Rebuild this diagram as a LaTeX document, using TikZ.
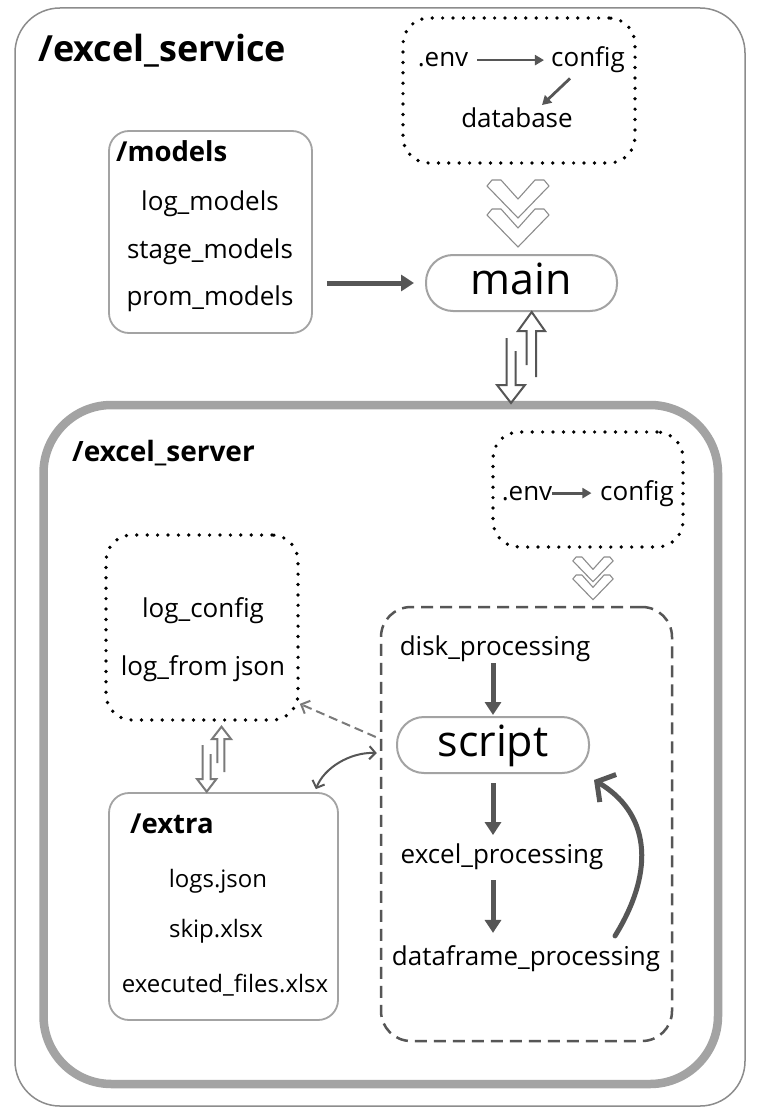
\documentclass[tikz,border=0pt]{standalone}
\usepackage{fontspec}
\setmainfont{Open Sans}
\usetikzlibrary{arrows.meta}
\definecolor{bgray}{HTML}{A3A3A3}
\definecolor{dgray}{HTML}{565656}
\definecolor{ogray}{HTML}{8C8C8C}
\definecolor{lgray}{HTML}{7A7A7A}
\begin{document}
\begin{tikzpicture}[x=1pt,y=-1pt,
  txt/.style={inner sep=0pt, font=\fontsize{26}{30}\selectfont, anchor=base},
  stxt/.style={inner sep=0pt, font=\fontsize{24}{28}\selectfont, anchor=base},
  ttl/.style={inner sep=0pt, font=\bfseries\fontsize{27.5}{32}\selectfont, anchor=base west},
  graybox/.style={draw=bgray, line width=1.8pt, rounded corners=20pt, inner sep=0pt},
  dotbox/.style={draw=black, line width=3.7pt, dash pattern=on 0pt off 10.4pt, line cap=round, rounded corners=26pt, inner sep=0pt},
  pill/.style={draw=bgray, line width=2pt, rounded corners=27pt, inner sep=0pt, text height=33pt, text depth=10pt, font=\fontsize{43}{50}\selectfont},
  harrow/.style={-{Triangle[length=13pt,width=16pt]}, line width=5pt, draw=dgray},
  sarrow/.style={-{Triangle[length=9pt,width=10pt]}, line width=2.8pt, draw=dgray},
  chevline/.style={draw=ogray, line width=1.1pt, fill=white, line join=round},
  hollow/.style={draw=dgray, line width=2pt, line join=miter},
  hollowl/.style={draw=lgray, line width=2pt, line join=miter},
  chev/.pic={\path[chevline] (-31,6)--(-26,0)--(-17,0)--(0,19)--(17,0)--(26,0)--(31,6)--(0,38)--cycle;},
]
\useasboundingbox (0,0) rectangle (760,1118);
\fill[white] (0,0) rectangle (760,1118);

% outer service box
\node[draw=ogray, line width=1.5pt, rounded corners=45pt, minimum width=730pt, minimum height=1098pt, inner sep=0pt] (svc) at (380,557) {};
\node[ttl, font=\bfseries\fontsize{36}{42}\selectfont] (svct) at (38,62) {/excel\_service};

% top config box
\node[dotbox, minimum width=232pt, minimum height=145pt] (cfgbox) at (519,90.5) {};
\node[txt] (env1) at (443,67) {.env};
\node[txt] (cfg1) at (588,67) {config};
\node[txt] (db1) at (517,128) {database};
\draw[sarrow, shorten <=9pt, shorten >=7pt] (env1.east) -- (env1.east -| cfg1.west);
\draw[sarrow] ([shift={(-18,5)}]cfg1.south) -- ([shift={(25,-3)}]db1.north);

\pic at (518,180) {chev};
\pic at (518,209) {chev};

% main
\node[pill, minimum width=191pt, minimum height=56pt] (main) at (521.5,283) {main};

% models
\node[graybox, minimum width=203pt, minimum height=202pt] (models) at (210.5,232) {};
\node[ttl] (modt) at (116,162) {/models};
\node[txt] (logm) at (210,211) {log\_models};
\node[txt] (stm) at (210,258) {stage\_models};
\node[txt] (prm) at (210,305) {prom\_models};
\draw[harrow, shorten <=14pt, shorten >=11pt] (models.east |- main) -- (main.west);

% server box
\node[draw=bgray, line width=8.5pt, rounded corners=68pt, minimum width=674.5pt, minimum height=679pt, inner sep=0pt] (srv) at (380.75,744.5) {};
\node[ttl, font=\bfseries\fontsize{28}{33}\selectfont] (srvt) at (72,461) {/excel\_server};

% hollow arrows main <-> server
\draw[hollow] (506.7,338) -- (506.7,385) -- (497,385) -- (511,403) -- (525,385) -- (515.7,385) -- (515.7,351);
\draw[hollow] (526.7,365) -- (526.7,331) -- (518,331) -- (531.7,312) -- (545,331) -- (536,331) -- (536,377);

% server env box
\node[dotbox, minimum width=190pt, minimum height=115pt] (envbox) at (588,489.5) {};
\node[txt] (env2) at (527,500) {.env};
\node[txt] (cfg2) at (637,500) {config};
\draw[sarrow, shorten >=8.5pt] (env2.east) -- (env2.east -| cfg2.west);

\pic[scale=0.65] at (593,557) {chev};
\pic[scale=0.65] at (593,575) {chev};

% dashed processing box
\node[draw=dgray, line width=2.5pt, dash pattern=on 12pt off 7pt, rounded corners=30pt, minimum width=291pt, minimum height=434pt, inner sep=0pt] (dbox) at (526.5,824) {};
\node[txt] (disk) at (495,655) {disk\_processing};
\node[pill, minimum width=192pt, minimum height=56pt] (script) at (493,745) {script};
\node[txt] (excel) at (502,863) {excel\_processing};
\node[txt] (dfp) at (526,965) {dataframe\_processing};
\draw[harrow, shorten <=2pt, shorten >=1pt] (disk.south -| script.north) -- (script.north);
\draw[harrow, shorten <=9pt, shorten >=8pt] (script.south) -- (script.south |- excel.north);
\draw[harrow, shorten <=11pt, shorten >=12pt] (excel.south -| script.south) -- (script.south |- dfp.north);
\draw[line width=5pt, dgray, line cap=round, -{Straight Barb[length=13pt,width=32pt]}]
  ([shift={(89,-9)}]dfp.north) .. controls (657,868) and (648,812) .. ([shift={(4,6)}]script.south east);

% log box
\node[dotbox, minimum width=192pt, minimum height=185pt] (logbox) at (202,627.5) {};
\node[txt] (logc) at (203,617) {log\_config};
\node[txt] (logj) at (203,675) {log\_from json};

% extra box
\node[graybox, minimum width=229pt, minimum height=227pt] (extra) at (223.5,906.5) {};
\node[ttl] (extt) at (130,833) {/extra};
\node[stxt] (lj) at (218,887) {logs.json};
\node[stxt] (sk) at (216,937) {skip.xlsx};
\node[stxt] (ex) at (225,992) {executed\_files.xlsx};

% hollow arrows log <-> extra
\draw[hollowl] (202.7,745) -- (202.7,779) -- (197,779) -- (206.7,791.7) -- (216.4,779) -- (210.7,779) -- (210.7,754);
\draw[hollowl] (217.3,763) -- (217.3,739) -- (212,739) -- (221.5,726.7) -- (231,739) -- (224.3,739) -- (224.3,772);

% dashed arrow to log box
\draw[draw=lgray, line width=2pt, dash pattern=on 9pt off 5pt, -{Straight Barb[length=7pt,width=14pt]}]
  ([shift={(-4,-87)}]dbox.west) -- ([shift={(0,-18)}]logbox.south east);
% curved double arrow to extra
\draw[draw=dgray, line width=2pt, {Straight Barb[length=6pt,width=13pt]}-{Straight Barb[length=6pt,width=13pt]}]
  ([shift={(-3,-71)}]dbox.west) .. controls (350,752) and (324,768) .. ([shift={(-23,-3)}]extra.north east);
\end{tikzpicture}
\end{document}
